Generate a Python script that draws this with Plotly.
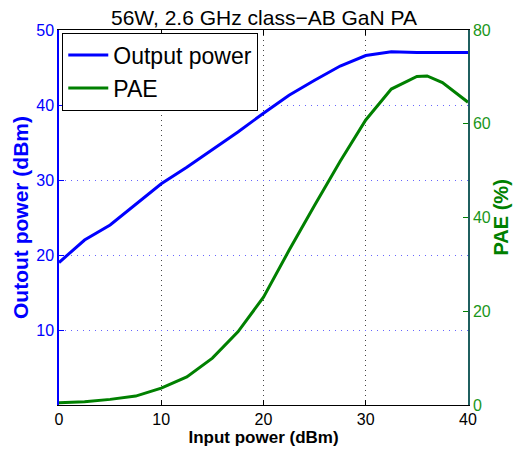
import plotly.graph_objects as go

# Eingangsleistung (dBm)
pin = [0, 2.5, 5, 7.5, 10, 12.5, 15, 17.5, 20, 22.5, 25, 27.5, 30, 32.5, 35, 36, 37.5, 40]
# Ausgangsleistung (dBm)
pout = [19.0, 22.0, 24.0, 26.7, 29.5, 31.7, 34.0, 36.4, 38.9, 41.3, 43.3, 45.2, 46.6, 47.1, 47.0, 47.0, 47.0, 47.0]
# PAE (%)
pae = [0.5, 0.7, 1.2, 1.9, 3.6, 6.0, 10.0, 15.6, 23.0, 33.0, 42.6, 52.0, 60.8, 67.4, 70.1, 70.2, 68.8, 64.6]

BLUE = '#0000ff'
GREEN = '#008000'
FONT = 'Liberation Sans, Arial, sans-serif'

W, H = 513, 450

fig = go.Figure()
fig.add_trace(go.Scatter(x=pin, y=pout, name='Output power', mode='lines',
                         line=dict(color=BLUE, width=3)))
fig.add_trace(go.Scatter(x=pin, y=pae, name='PAE', mode='lines', yaxis='y2',
                         line=dict(color=GREEN, width=3)))

fig.update_layout(
    width=W, height=H,
    margin=dict(l=59, r=45, t=30, b=45, autoexpand=False),
    paper_bgcolor='white', plot_bgcolor='white',
    font=dict(family=FONT, size=16, color='black'),
    showlegend=True,
    legend=dict(x=0.008, y=0.993, xanchor='left', yanchor='top', bgcolor='white',
                bordercolor='black', borderwidth=1, font=dict(size=23),
                tracegroupgap=0, itemwidth=40),
    xaxis=dict(range=[0, 40], tickvals=[0, 10, 20, 30, 40], ticks='inside', ticklen=5,
               tickcolor='black', showline=True, linecolor='black', linewidth=1, mirror='ticks',
               showgrid=True, gridcolor='#444444', griddash='1px,4px', gridwidth=1, zeroline=False,
               automargin=False, tickfont=dict(size=16, color='black'),
               title=dict(text='<b>Input power (dBm)</b>', font=dict(size=17), standoff=0)),
    yaxis=dict(range=[0, 50], tickvals=[10, 20, 30, 40, 50], ticks='inside', ticklen=5,
               tickcolor=BLUE, showline=True, linecolor=BLUE, linewidth=1.5,
               showgrid=True, gridcolor='#6666ff', griddash='1px,5px', gridwidth=1, zeroline=False,
               automargin=False, tickfont=dict(size=16, color=BLUE),
               title=dict(text='<b>Outout power (dBm)</b>', font=dict(size=21, color=BLUE), standoff=2)),
    yaxis2=dict(range=[0, 80], tickvals=[0, 20, 40, 60, 80], ticks='inside', ticklen=5,
                tickcolor=GREEN, overlaying='y', side='right', showline=True, linecolor='#1f5f5f',
                linewidth=1.5, showgrid=False, zeroline=False, automargin=False,
                tickfont=dict(size=16, color='#1a961a')),
)

# Titel als Annotation direkt über dem Plotbereich
fig.add_annotation(text='56W, 2.6 GHz class\u2212AB GaN PA', xref='paper', yref='paper',
                   x=0.5, y=1.0, yshift=-1, xanchor='center', yanchor='bottom', showarrow=False,
                   font=dict(size=21, color='black'))

# rechte Achsenbeschriftung als Annotation
fig.add_annotation(text='<b>PAE (%)</b>', xref='paper', yref='paper', x=1.0, xshift=32,
                   y=0.5, textangle=-90, showarrow=False, xanchor='center', yanchor='middle',
                   font=dict(size=20, color=GREEN))

# Body-Rand der Seite entfernen, damit die Figur das Fenster genau füllt
fig.write_html('out.html', config={'displayModeBar': False},
               post_script="document.body.style.margin='0';")
